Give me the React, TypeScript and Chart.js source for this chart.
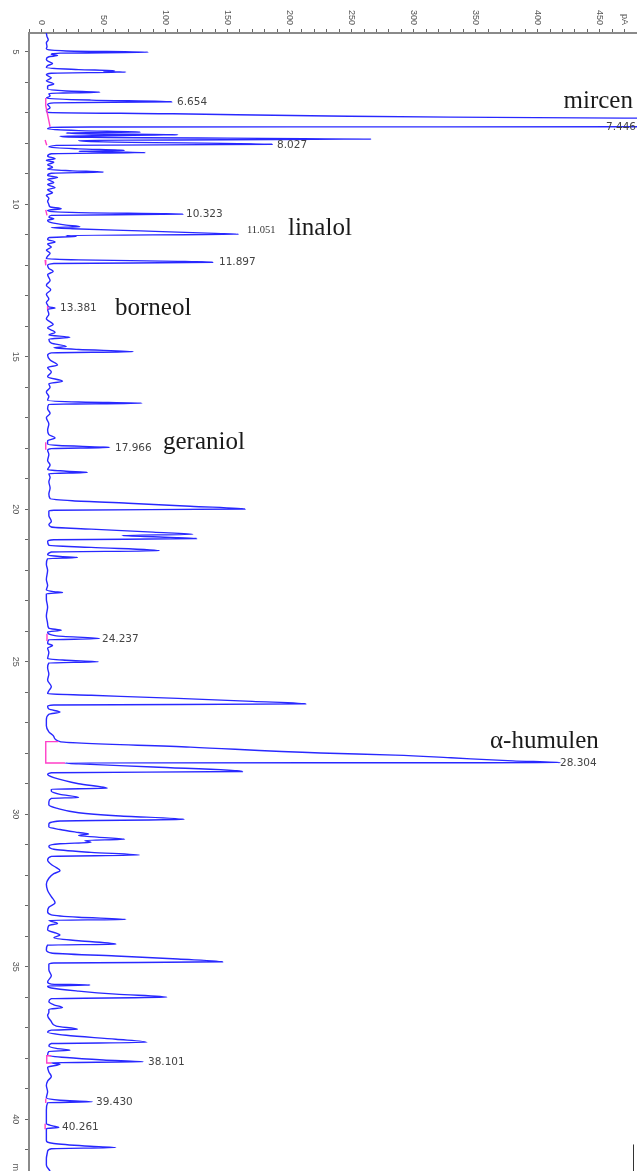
import React, { useEffect, useRef } from "react";
import { Chart, registerables } from "chart.js";

Chart.register(...registerables);

// Retention time (min) and detector signal (pA) of the chromatogram trace
const traceTime = [
  4.38, 4.5, 4.6, 4.7, 4.82, 4.9, 4.97, 5.01, 5.04, 5.08, 5.12, 5.16, 5.24, 5.3, 5.38, 5.45,
  5.52, 5.58, 5.62, 5.64, 5.66, 5.7, 5.75, 5.85, 5.95, 6.05, 6.12, 6.22, 6.28, 6.32, 6.36, 6.45,
  6.52, 6.58, 6.635, 6.67, 6.72, 6.83, 6.92, 6.98, 7.03, 7.1, 7.14, 7.17, 7.2, 7.44, 7.455, 7.46,
  7.465, 7.475, 7.53, 7.58, 7.63, 7.66, 7.69, 7.72, 7.76, 7.8, 7.86, 7.9, 7.95, 8.03, 8.065, 8.12,
  8.18, 8.23, 8.26, 8.3, 8.34, 8.42, 8.5, 8.55, 8.62, 8.7, 8.78, 8.85, 8.9, 8.94, 8.98, 9.05,
  9.12, 9.18, 9.28, 9.35, 9.45, 9.52, 9.62, 9.7, 9.8, 9.9, 10.0, 10.08, 10.14, 10.2, 10.27, 10.32,
  10.36, 10.42, 10.47, 10.52, 10.6, 10.68, 10.73, 10.76, 10.8, 10.87, 10.95, 10.98, 11.02, 11.05, 11.09, 11.15,
  11.23, 11.3, 11.4, 11.5, 11.6, 11.7, 11.78, 11.82, 11.87, 11.9, 11.94, 12.0, 12.1, 12.2, 12.3, 12.5,
  12.65, 12.8, 12.95, 13.1, 13.22, 13.3, 13.36, 13.4, 13.44, 13.6, 13.75, 13.94, 14.05, 14.2, 14.28, 14.36,
  14.42, 14.55, 14.66, 14.7, 14.76, 14.83, 14.87, 14.95, 15.1, 15.27, 15.35, 15.5, 15.65, 15.8, 15.88, 16.0,
  16.15, 16.3, 16.42, 16.48, 16.52, 16.56, 16.7, 16.85, 17.0, 17.2, 17.4, 17.55, 17.66, 17.75, 17.86, 17.91,
  17.97, 18.01, 18.06, 18.2, 18.4, 18.55, 18.7, 18.75, 18.79, 18.83, 18.95, 19.1, 19.3, 19.5, 19.65, 19.72,
  19.8, 19.9, 19.99, 20.03, 20.06, 20.2, 20.4, 20.5, 20.58, 20.65, 20.75, 20.82, 20.86, 20.9, 20.96, 21.0,
  21.05, 21.18, 21.25, 21.36, 21.4, 21.5, 21.55, 21.58, 21.62, 21.8, 22.0, 22.3, 22.5, 22.65, 22.7, 22.73,
  22.77, 22.95, 23.2, 23.5, 23.75, 23.9, 23.97, 24.02, 24.15, 24.24, 24.28, 24.4, 24.47, 24.55, 24.7, 24.9,
  24.95, 25.0, 25.04, 25.2, 25.4, 25.6, 25.82, 25.95, 26.05, 26.1, 26.2, 26.3, 26.38, 26.42, 26.46, 26.55,
  26.65, 26.72, 26.9, 27.1, 27.3, 27.45, 27.62, 27.8, 27.99, 28.06, 28.15, 28.25, 28.31, 28.318, 28.35, 28.45,
  28.6, 28.64, 28.7, 28.8, 29.0, 29.15, 29.18, 29.25, 29.35, 29.45, 29.48, 29.6, 29.7, 29.8, 29.95, 30.05,
  30.17, 30.22, 30.32, 30.42, 30.5, 30.6, 30.65, 30.7, 30.75, 30.82, 30.86, 30.92, 30.97, 31.05, 31.15, 31.25,
  31.34, 31.38, 31.5, 31.65, 31.75, 31.85, 31.95, 32.1, 32.3, 32.5, 32.7, 32.9, 33.05, 33.2, 33.3, 33.38,
  33.45, 33.48, 33.58, 33.65, 33.8, 33.9, 33.96, 34.05, 34.15, 34.26, 34.29, 34.45, 34.55, 34.65, 34.75, 34.84,
  34.88, 34.92, 35.1, 35.3, 35.5, 35.57, 35.6, 35.63, 35.7, 35.8, 35.9, 36.0, 36.05, 36.15, 36.25, 36.34,
  36.4, 36.5, 36.6, 36.8, 36.95, 37.05, 37.08, 37.15, 37.25, 37.38, 37.48, 37.52, 37.6, 37.68, 37.74, 37.78,
  37.9, 37.98, 38.06, 38.12, 38.15, 38.2, 38.3, 38.45, 38.6, 38.75, 38.9, 39.1, 39.3, 39.38, 39.43, 39.46,
  39.7, 39.95, 40.15, 40.22, 40.27, 40.31, 40.5, 40.7, 40.8, 40.88, 40.93, 40.97, 41.05, 41.3, 41.5, 41.7,
];

const traceSignal = [
  4, 4.5, 5.5, 4, 4.5, 4, 20, 86, 15, 8, 13, 6, 4, 5, 9, 5,
  4, 30, 59, 50, 68, 8, 4, 8, 4, 10, 5, 5, 20, 47, 6, 7,
  4, 40, 105, 10, 5, 7, 4, 5, 106, 232, 330, 470, 530, 560, 470, 200,
  40, 8, 5, 30, 80, 20, 40, 110, 15, 40, 266, 30, 50, 186, 12, 6,
  30, 67, 30, 84, 8, 5, 11, 4, 10, 5, 9, 5, 25, 50, 8, 5,
  13, 5, 10, 5, 11, 5, 9, 4, 6, 5, 6, 7, 16, 5, 30, 114,
  8, 6, 10, 5, 8, 20, 31, 8, 25, 80, 140, 159, 20, 28, 6, 5,
  11, 5, 8, 4, 7, 5, 4, 30, 110, 138, 10, 5, 6, 9.5, 5, 7,
  4, 7.5, 4, 6, 4, 5, 6, 11, 5, 6, 4, 9.5, 5, 11, 6, 23,
  6, 8, 20, 10, 30, 74, 8, 5, 7, 13, 5, 8, 5, 17, 6, 7,
  4, 6, 5, 30, 81, 6, 5, 7, 4, 6, 5, 6, 11, 5, 5, 14,
  55, 8, 5, 6, 5, 7, 5, 20, 37, 6, 7, 6, 7, 6, 7, 25,
  70, 120, 164, 10, 6, 6, 8, 6, 8, 40, 90, 122, 65, 90, 125, 10,
  5, 6, 40, 95, 8, 5, 15, 29, 5, 4, 5, 4, 5, 4, 10, 17,
  4, 4, 5, 4, 5, 6, 16, 5, 12, 47, 6, 5, 9, 5, 6, 5,
  20, 46, 6, 5, 6, 5, 8, 6, 5, 40, 110, 170, 213, 10, 5, 6,
  15, 6, 4, 4, 6, 10, 15, 120, 225, 285, 330, 380, 418, 19, 30, 90,
  162, 8, 5, 10, 30, 53, 8, 8, 15, 30, 8, 6, 6, 12, 30, 60,
  115, 15, 6, 6, 15, 30, 38, 30, 45, 67, 35, 40, 15, 6, 10, 40,
  79, 8, 5, 8, 12, 15, 10, 6, 4, 5, 8, 11, 6, 5, 8, 30,
  68, 6, 13, 6, 5, 12, 15, 10, 30, 60, 5, 4, 8, 60, 110, 146,
  10, 6, 6, 8, 5, 8, 39, 5, 8, 30, 60, 101, 8, 6, 10, 17,
  6, 6, 5, 8, 12, 29, 8, 5, 20, 60, 85, 8, 6, 12, 23, 6,
  5, 20, 50, 82, 8, 15, 5, 6, 8, 5, 4, 5, 4, 15, 41, 5,
  4, 4, 4, 9, 14, 4, 4, 4, 10, 35, 60, 8, 5, 4, 4, 7,
];

// Integration baselines (magenta), null separates segments
const baselineTime = [
  6.51, 6.76, 7.46, null,
  7.89, 8.06, null,
  10.18, 10.36, null,
  11.82, 12.0, null,
  13.33, 13.45, null,
  17.8, 18.05, null,
  24.08, 24.32, null,
  27.62, 27.62, 28.32, 28.32, null,
  37.92, 37.92, 38.16, 38.16, null,
  39.32, 39.47, null,
  40.15, 40.33,
];
const baselineSignal = [
  3.5, 3.5, 7, null,
  3, 4.3, null,
  3.5, 4.5, null,
  3, 3.5, null,
  5, 5, null,
  3.5, 3.5, null,
  4.5, 4.5, null,
  13.6, 3.5, 3.5, 19, null,
  8, 4.3, 4.3, 8, null,
  3.5, 3.5, null,
  3, 3,
];

// Axis tick labels
const timeTickLabels = [5, 10, 15, 20, 25, 30, 35, 40];
const signalTickLabels = [0, 50, 100, 150, 200, 250, 300, 350, 400, 450];

// Retention-time labels of integrated peaks
const peakLabelText = ["6.654", "7.446", "8.027", "10.323", "11.897", "13.381", "17.966", "24.237", "28.304", "38.101", "39.430", "40.261"];
const peakLabelTime = [6.643, 7.463, 8.054, 10.32, 11.89, 13.4, 17.99, 24.26, 28.34, 38.13, 39.44, 40.28];
const peakLabelSignal = [109.3, 479.2, 189.9, 116.5, 143.1, 15, 59.3, 48.8, 417.9, 85.9, 44, 16.6];

// Compound names
const compoundNames = ["mircen", "linalol", "borneol", "geraniol", "α-humulen"];
const compoundTime = [6.84, 11.006, 13.63, 18.03, 27.83];
const compoundSignal = [476.7, 198.7, 59.3, 98, 361.5];

const extraLabelText = "11.051";
const extraLabelTime = 10.84;
const extraLabelSignal = 165.7;

const labelsPlugin = {
  id: "chromLabels",
  afterDraw(chart: any) {
    const ctx = chart.ctx as CanvasRenderingContext2D;
    const xs = chart.scales.x;
    const ys = chart.scales.y;
    ctx.save();

    // top axis labels (rotated clockwise)
    ctx.fillStyle = "#555";
    ctx.font = '9px "Liberation Sans", Arial, sans-serif';
    ctx.textBaseline = "middle";
    ctx.textAlign = "right";
    const drawTop = (txt: string, v: number) => {
      const px = xs.getPixelForValue(v);
      ctx.save();
      ctx.translate(px, xs.bottom - 8);
      ctx.rotate(Math.PI / 2);
      ctx.fillText(txt, 0, 0);
      ctx.restore();
    };
    signalTickLabels.forEach((v) => drawTop(String(v), v));
    drawTop("pA", 470);

    // left axis labels (rotated clockwise)
    ctx.textAlign = "center";
    timeTickLabels.forEach((v) => {
      const py = ys.getPixelForValue(v);
      ctx.save();
      ctx.translate(ys.left + 15.5, py);
      ctx.rotate(Math.PI / 2);
      ctx.fillText(String(v), 0, 0);
      ctx.restore();
    });
    ctx.save();
    ctx.textAlign = "left";
    ctx.translate(ys.left + 15.5, ys.getPixelForValue(41.45));
    ctx.rotate(Math.PI / 2);
    ctx.fillText("min", 0, 0);
    ctx.restore();

    // peak retention time labels
    ctx.fillStyle = "#444";
    ctx.font = '10.5px "DejaVu Sans", sans-serif';
    ctx.textBaseline = "middle";
    peakLabelText.forEach((t, i) => {
      ctx.textAlign = t === "7.446" ? "right" : "left";
      ctx.fillText(t, xs.getPixelForValue(peakLabelSignal[i]), ys.getPixelForValue(peakLabelTime[i]));
    });

    ctx.fillStyle = "#333";
    ctx.font = '10.5px "Liberation Serif", serif';
    ctx.textAlign = "left";
    ctx.fillText(extraLabelText, xs.getPixelForValue(extraLabelSignal), ys.getPixelForValue(extraLabelTime));

    // compound names
    ctx.fillStyle = "#1a1a1a";
    ctx.font = '25px "Liberation Serif", "Times New Roman", serif';
    ctx.textBaseline = "alphabetic";
    compoundNames.forEach((n, i) => {
      ctx.textAlign = i === 0 ? "right" : "left";
      ctx.fillText(n, xs.getPixelForValue(compoundSignal[i]), ys.getPixelForValue(compoundTime[i]));
    });

    // right frame stub at bottom right
    ctx.strokeStyle = "#333";
    ctx.lineWidth = 1;
    ctx.beginPath();
    const rx = Math.round(xs.getPixelForValue(477)) + 0.5;
    ctx.moveTo(rx, ys.getPixelForValue(40.83));
    ctx.lineTo(rx, ys.bottom);
    ctx.stroke();

    ctx.restore();
  },
};

export default function App() {
  const ref = useRef<HTMLCanvasElement | null>(null);

  useEffect(() => {
    if (!ref.current) return;
    const trace = traceTime.map((t, i) => ({ x: traceSignal[i], y: t }));
    const base = baselineTime.map((t, i) => ({ x: baselineSignal[i] as any, y: t as any }));
    const chart = new Chart(ref.current, {
      type: "scatter",
      data: {
        datasets: [
          {
            data: base,
            showLine: true,
            borderColor: "#ff3fc8",
            borderWidth: 1.4,
            pointRadius: 0,
            spanGaps: false,
          },
          {
            data: trace,
            indexAxis: "y",
            showLine: true,
            borderColor: "rgb(40,40,255)",
            borderWidth: 1.4,
            pointRadius: 0,
            cubicInterpolationMode: "monotone",
          },
        ],
      },
      options: {
        responsive: false,
        animation: false,
        events: [],
        layout: { padding: 0 },
        plugins: { legend: { display: false }, tooltip: { enabled: false } },
        scales: {
          x: {
            type: "linear",
            position: "top",
            min: -10,
            max: 480,
            afterFit: (s: any) => {
              s.height = 33;
            },
            ticks: { display: false, stepSize: 10, includeBounds: false },
            grid: { drawOnChartArea: false, drawTicks: true, tickLength: 4, tickColor: "#666", tickWidth: 1 },
            border: { display: true, color: "#8a8a8a", width: 2 },
          },
          y: {
            type: "linear",
            reverse: true,
            min: 4.38,
            max: 41.7,
            afterFit: (s: any) => {
              s.width = 29;
            },
            ticks: { display: false, stepSize: 1, includeBounds: false },
            grid: { drawOnChartArea: false, drawTicks: true, tickLength: 4, tickColor: "#666", tickWidth: 1 },
            border: { display: true, color: "#8a8a8a", width: 2 },
          },
        },
      },
      plugins: [labelsPlugin],
    } as any);
    return () => chart.destroy();
  }, []);

  return (
    <div style={{ position: "absolute", left: 0, top: 0, width: 637, height: 1171, background: "#fff" }}>
      <canvas ref={ref} width={637} height={1171} style={{ display: "block", width: 637, height: 1171 }} />
    </div>
  );
}
